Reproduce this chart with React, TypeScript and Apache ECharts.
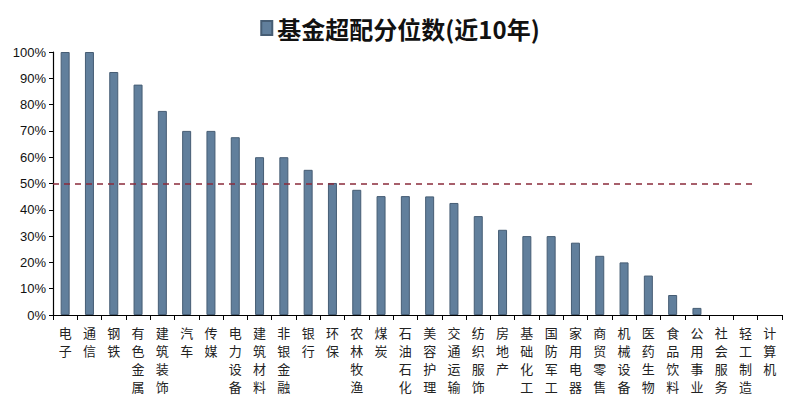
import React, { useEffect, useRef } from "react";
import * as echarts from "echarts";

const categories = [
  "电子", "通信", "钢铁", "有色金属", "建筑装饰", "汽车", "传媒", "电力设备", "建筑材料", "非银金融",
  "银行", "环保", "农林牧渔", "煤炭", "石油石化", "美容护理", "交通运输", "纺织服饰", "房地产", "基础化工",
  "国防军工", "家用电器", "商贸零售", "机械设备", "医药生物", "食品饮料", "公用事业", "社会服务", "轻工制造", "计算机",
];
const values = [
  100, 100, 92.4, 87.6, 77.6, 70, 70, 67.6, 60, 60,
  55.2, 50.2, 47.6, 45.2, 45.2, 45.1, 42.6, 37.6, 32.4, 30,
  30, 27.5, 22.5, 20, 15, 7.6, 2.7, 0, 0, 0,
];
const seriesName = "基金超配分位数(近10年)";
const referenceLevel = 50;
const yTicks = { min: 0, max: 100, interval: 10 };

export default function App() {
  const ref = useRef<HTMLDivElement>(null);
  useEffect(() => {
    if (!ref.current) return;
    const chart = echarts.init(ref.current, null, { renderer: "svg" });
    chart.setOption({
      animation: false,
      backgroundColor: "#ffffff",
      legend: {
        top: 11,
        left: "center",
        icon: "rect",
        itemWidth: 11,
        itemHeight: 14,
        itemGap: 6,
        textStyle: {
          fontSize: 24,
          fontWeight: "bold",
          color: "#111",
          fontFamily: "Noto Sans CJK SC",
        },
        data: [seriesName],
      },
      grid: { left: 53, right: 18, top: 52, bottom: 84 },
      xAxis: {
        type: "category",
        data: categories,
        axisLine: { lineStyle: { color: "#000", width: 1.2 } },
        axisTick: { show: true, alignWithLabel: false, length: 5, lineStyle: { color: "#000" } },
        axisLabel: {
          interval: 0,
          margin: 8,
          color: "#222",
          fontSize: 13,
          lineHeight: 18,
          fontFamily: "Noto Sans CJK SC",
          formatter: (v: string) => v.split("").join("\n"),
        },
      },
      yAxis: {
        type: "value",
        min: yTicks.min,
        max: yTicks.max,
        interval: yTicks.interval,
        splitLine: { show: false },
        axisLine: { show: true, lineStyle: { color: "#000", width: 1.2 } },
        axisTick: { show: true, length: 4, lineStyle: { color: "#000" } },
        axisLabel: {
          formatter: "{value}%",
          color: "#111",
          fontSize: 13,
          margin: 7,
          fontFamily: "Liberation Sans",
        },
      },
      series: [
        {
          name: seriesName,
          type: "bar",
          data: values.map((v) =>
            v === 0 ? { value: v, itemStyle: { borderWidth: 0, opacity: 0 } } : v
          ),
          barWidth: 9,
          itemStyle: { color: "#617f9c", borderColor: "#465d74", borderWidth: 1 },
          markLine: {
            silent: true,
            symbol: "none",
            label: { show: false },
            lineStyle: { color: "#8a2b3b", type: [6, 5], width: 1.6 },
            data: [[{ x: 53, yAxis: referenceLevel }, { x: 756, yAxis: referenceLevel }]],
          },
        },
      ],
    });
    return () => chart.dispose();
  }, []);
  return (
    <div
      ref={ref}
      style={{ position: "absolute", left: 0, top: 0, width: 800, height: 399 }}
    />
  );
}
